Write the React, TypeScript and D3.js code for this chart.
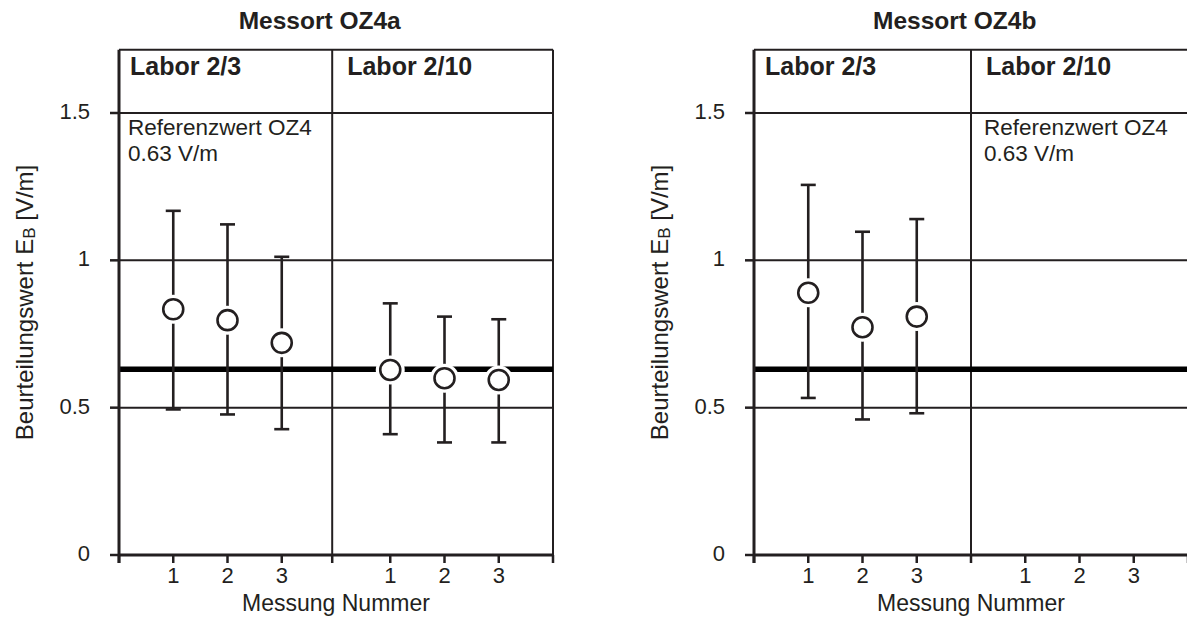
import React from 'react';
import * as d3 from 'd3';

// values (Beurteilungswert E_B in V/m)
const panelTitles = ['Messort OZ4a', 'Messort OZ4b'];
const labNames = ['Labor 2/3', 'Labor 2/10'];
const measurementLabels = ['1', '2', '3'];
const referenceValue = 0.63;
const referenceLines = ['Referenzwert OZ4', '0.63 V/m'];
const yTicks = [0, 0.5, 1, 1.5];

// OZ4a: Labor 2/3 (1..3) then Labor 2/10 (1..3)
const oz4aPos = [1, 2, 3, 5, 6, 7];
const oz4aMean = [0.834, 0.797, 0.72, 0.628, 0.6, 0.594];
const oz4aLow = [0.494, 0.477, 0.427, 0.41, 0.382, 0.382];
const oz4aHigh = [1.168, 1.122, 1.012, 0.854, 0.809, 0.8];

// OZ4b: only Labor 2/3 has values
const oz4bPos = [1, 2, 3];
const oz4bMean = [0.89, 0.773, 0.809];
const oz4bLow = [0.533, 0.46, 0.481];
const oz4bHigh = [1.256, 1.097, 1.14];

const INK = '#231f20';
const FONT = '"Liberation Sans", Arial, Helvetica, sans-serif';

type PanelProps = {
  x0: number;
  title: string;
  pos: number[];
  mean: number[];
  low: number[];
  high: number[];
  divider: number;
  refSection: number;
};

const Panel = ({ x0, title, pos, mean, low, high, divider, refSection }: PanelProps) => {
  const x = d3.scaleLinear().domain([0, 8]).range([x0, x0 + 434]);
  const y = d3.scaleLinear().domain([0, 1.5]).range([555, 113]);
  const yTop = y(1.715);
  const xTicks = [0, 1, 2, 3, divider, 5, 6, 7, 8];
  const sectionStarts = [0, divider];
  const cap = 7.5;

  return (
    <g>
      <text x={x(3.7)} y={29} textAnchor="middle" fontFamily={FONT} fontWeight="bold" fontSize={24.5} fill={INK}>
        {title}
      </text>

      {/* frame */}
      <line x1={x(0)} x2={x(8)} y1={yTop} y2={yTop} stroke={INK} strokeWidth={2} />
      <line x1={x(divider)} x2={x(divider)} y1={yTop} y2={y(0)} stroke={INK} strokeWidth={2} />
      <line x1={x(8)} x2={x(8)} y1={yTop} y2={y(0) + 8} stroke={INK} strokeWidth={2} />

      {/* grid + y ticks */}
      {yTicks.map(t => (
        <g key={t}>
          {t > 0 && <line x1={x(0)} x2={x(8)} y1={y(t)} y2={y(t)} stroke={INK} strokeWidth={2} />}
          <line x1={x(0) - 9} x2={x(0)} y1={y(t)} y2={y(t)} stroke={INK} strokeWidth={2.5} />
          <text x={x(0) - 29} y={y(t) + 6} textAnchor="end" fontFamily={FONT} fontSize={22} fill={INK}>
            {d3.format('~g')(t)}
          </text>
        </g>
      ))}

      {/* headers */}
      {labNames.map((name, i) => (
        <text key={name} x={x(sectionStarts[i]) + (i === 0 ? 11 : 15)} y={75} fontFamily={FONT} fontWeight="bold" fontSize={25} fill={INK}>
          {name}
        </text>
      ))}
      {referenceLines.map((line, i) => (
        <text key={line} x={x(sectionStarts[refSection]) + (refSection === 0 ? 9 : 13)} y={135 + i * 26} fontFamily={FONT} fontSize={22.5} fill={INK}>
          {line}
        </text>
      ))}

      {/* reference value */}
      <line x1={x(0)} x2={x(8)} y1={y(referenceValue)} y2={y(referenceValue)} stroke="#000" strokeWidth={5.5} />

      {/* axes */}
      <line x1={x(0)} x2={x(0)} y1={yTop} y2={y(0) + 8} stroke={INK} strokeWidth={3} />
      <line x1={x(0)} x2={x(8)} y1={y(0)} y2={y(0)} stroke={INK} strokeWidth={3} />
      {xTicks.map((t, i) => (
        <line key={i} x1={x(t)} x2={x(t)} y1={y(0)} y2={y(0) + 8} stroke={INK} strokeWidth={2.5} />
      ))}
      {[0, 4].flatMap(off =>
        measurementLabels.map((lab, i) => (
          <text key={off + '-' + lab} x={x(off + i + 1)} y={583} textAnchor="middle" fontFamily={FONT} fontSize={22} fill={INK}>
            {lab}
          </text>
        ))
      )}
      <text x={x(4)} y={611} textAnchor="middle" fontFamily={FONT} fontSize={23} fill={INK}>
        Messung Nummer
      </text>
      <text
        transform={`translate(${x0 - 95},302.5) rotate(-90)`}
        textAnchor="middle"
        dominantBaseline="central"
        fontFamily={FONT}
        fontSize={24}
        fill={INK}
      >
        <tspan>Beurteilungswert E</tspan>
        <tspan fontSize={17} dy={5}>B</tspan>
        <tspan dy={-5}> [V/m]</tspan>
      </text>

      {/* error bars */}
      {pos.map((p, i) => (
        <g key={'e' + i} stroke={INK} strokeWidth={2.6}>
          <line x1={x(p)} x2={x(p)} y1={y(low[i])} y2={y(high[i])} />
          <line x1={x(p) - cap} x2={x(p) + cap} y1={y(low[i])} y2={y(low[i])} />
          <line x1={x(p) - cap} x2={x(p) + cap} y1={y(high[i])} y2={y(high[i])} />
        </g>
      ))}
      {pos.map((p, i) => (
        <g key={'c' + i}>
          <circle cx={x(p)} cy={y(mean[i])} r={14.5} fill="#fff" />
          <circle cx={x(p)} cy={y(mean[i])} r={10} fill="#fff" stroke={INK} strokeWidth={2.6} />
        </g>
      ))}
    </g>
  );
};

export default function App() {
  return (
    <svg width={1187} height={618} style={{ position: 'absolute', left: 0, top: 0, background: '#fff' }}>
      <rect width={1187} height={618} fill="#fff" />
      <Panel x0={119} title={panelTitles[0]} pos={oz4aPos} mean={oz4aMean} low={oz4aLow} high={oz4aHigh} divider={3.93} refSection={0} />
      <Panel x0={754} title={panelTitles[1]} pos={oz4bPos} mean={oz4bMean} low={oz4bLow} high={oz4bHigh} divider={4} refSection={1} />
    </svg>
  );
}
